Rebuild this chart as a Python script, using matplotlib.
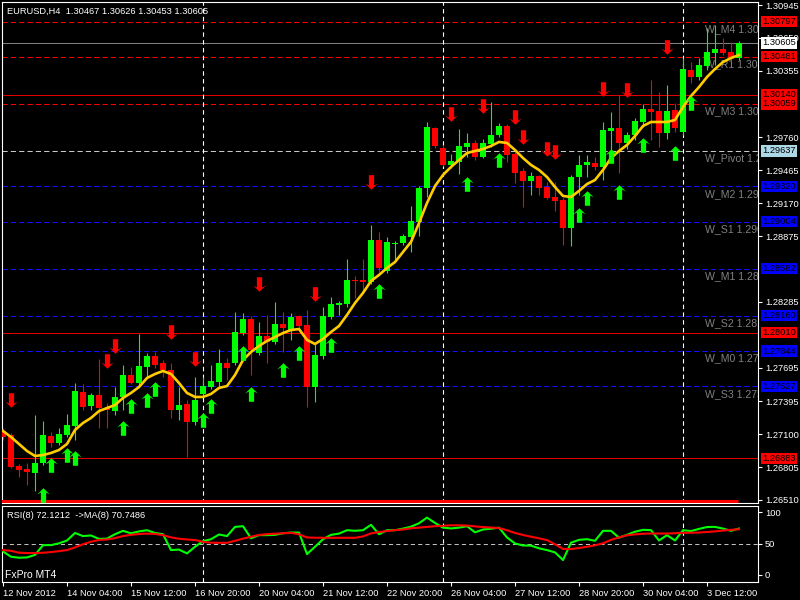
"""MT4-style EURUSD H4 chart with weekly pivot levels and RSI sub-window."""
import matplotlib
matplotlib.use("Agg")
import matplotlib.pyplot as plt
import matplotlib.transforms as mtransforms
from matplotlib.path import Path
import numpy as np

plt.rcParams["font.family"] = ["Liberation Sans", "DejaVu Sans"]

# ── Data ──────────────────────────────────────────────────────────────
opens = [
    1.27128, 1.27092, 1.26815, 1.26788, 1.26752, 1.26842, 1.27083, 1.27021, 1.27092, 1.27173,
    1.27478, 1.27352, 1.27451, 1.27334, 1.27307, 1.27433, 1.27630, 1.27558, 1.27702, 1.27800,
    1.27738, 1.27675, 1.27316, 1.27370, 1.27209, 1.27460, 1.27522, 1.27567, 1.27738, 1.27738,
    1.28006, 1.28132, 1.27827, 1.27979, 1.27926, 1.28087, 1.28033, 1.28159, 1.28078, 1.27522,
    1.27800, 1.28150, 1.28257, 1.28266, 1.28481, 1.28481, 1.28463, 1.28840, 1.28562, 1.28804,
    1.28813, 1.28866, 1.29001, 1.29306, 1.29843, 1.29664, 1.29512, 1.29538, 1.29673, 1.29709,
    1.29583, 1.29700, 1.29780, 1.29861, 1.29610, 1.29458, 1.29368, 1.29413, 1.29314, 1.29225,
    1.29198, 1.28947, 1.29404, 1.29512, 1.29530, 1.29494, 1.29816, 1.29843, 1.29709, 1.29780,
    1.29897, 1.30013, 1.29995, 1.29798, 1.30004, 1.29807, 1.30363, 1.30300, 1.30399, 1.30515,
    1.30551, 1.30524, 1.30467,
]
closes = [
    1.27074, 1.26806, 1.26779, 1.26761, 1.26842, 1.27092, 1.27021, 1.27101, 1.27182, 1.27487,
    1.27343, 1.27451, 1.27334, 1.27316, 1.27433, 1.27630, 1.27558, 1.27711, 1.27800, 1.27720,
    1.27675, 1.27316, 1.27361, 1.27209, 1.27406, 1.27531, 1.27576, 1.27738, 1.27693, 1.28015,
    1.28132, 1.27854, 1.27979, 1.27926, 1.28087, 1.28051, 1.28150, 1.28069, 1.27522, 1.27809,
    1.28159, 1.28266, 1.28275, 1.28481, 1.28472, 1.28463, 1.28840, 1.28589, 1.28822, 1.28813,
    1.28875, 1.29010, 1.29306, 1.29852, 1.29682, 1.29512, 1.29547, 1.29682, 1.29709, 1.29583,
    1.29709, 1.29780, 1.29861, 1.29601, 1.29440, 1.29368, 1.29413, 1.29306, 1.29216, 1.29189,
    1.28947, 1.29404, 1.29512, 1.29538, 1.29494, 1.29825, 1.29843, 1.29709, 1.29780, 1.29906,
    1.30013, 1.29986, 1.29798, 1.29995, 1.29843, 1.30372, 1.30300, 1.30408, 1.30524, 1.30551,
    1.30515, 1.30479, 1.30605,
]
highs = [
    1.27155, 1.27110, 1.26833, 1.26842, 1.27272, 1.27218, 1.27119, 1.27155, 1.27281, 1.27558,
    1.27549, 1.27469, 1.27773, 1.27379, 1.27522, 1.27720, 1.27702, 1.27997, 1.27827, 1.27836,
    1.27764, 1.27738, 1.27522, 1.27406, 1.27612, 1.27612, 1.27720, 1.27863, 1.27782, 1.28194,
    1.28186, 1.28159, 1.28105, 1.28168, 1.28284, 1.28194, 1.28186, 1.28168, 1.28212, 1.27917,
    1.28239, 1.28329, 1.28293, 1.28669, 1.28517, 1.28669, 1.28974, 1.28911, 1.28866, 1.28831,
    1.28893, 1.29144, 1.29323, 1.29897, 1.29852, 1.29691, 1.29610, 1.29834, 1.29798, 1.29736,
    1.29745, 1.30076, 1.29888, 1.29879, 1.29628, 1.29485, 1.29449, 1.29422, 1.29359, 1.29359,
    1.29216, 1.29422, 1.29601, 1.29601, 1.29583, 1.29897, 1.29986, 1.30139, 1.29807, 1.29933,
    1.30058, 1.30273, 1.30166, 1.30228, 1.30067, 1.30470, 1.30434, 1.30470, 1.30739, 1.30766,
    1.30650, 1.30614, 1.30626,
]
lows = [
    1.27048, 1.26797, 1.26716, 1.26644, 1.26591, 1.26824, 1.26985, 1.27003, 1.27074, 1.27048,
    1.27316, 1.27316, 1.27155, 1.27155, 1.27272, 1.27316, 1.27549, 1.27531, 1.27603, 1.27693,
    1.27612, 1.27245, 1.27227, 1.26895, 1.27182, 1.27442, 1.27505, 1.27522, 1.27585, 1.27720,
    1.27988, 1.27630, 1.27809, 1.27738, 1.27908, 1.27836, 1.27944, 1.28042, 1.27343, 1.27388,
    1.27773, 1.28132, 1.28168, 1.28239, 1.28320, 1.28374, 1.28445, 1.28553, 1.28544, 1.28642,
    1.28795, 1.28732, 1.28875, 1.29225, 1.29664, 1.29503, 1.29485, 1.29431, 1.29583, 1.29556,
    1.29574, 1.29673, 1.29762, 1.29538, 1.29350, 1.29135, 1.29243, 1.29243, 1.29207, 1.29099,
    1.28795, 1.28786, 1.29243, 1.29404, 1.29467, 1.29377, 1.29601, 1.29440, 1.29655, 1.29736,
    1.29852, 1.29736, 1.29673, 1.29745, 1.29807, 1.29780, 1.30246, 1.30273, 1.30363, 1.30408,
    1.30497, 1.30452, 1.30453,
]
ma_line = [
    1.27128, 1.27074, 1.27012, 1.26949, 1.26904, 1.26913, 1.26931, 1.26958, 1.27012, 1.27137,
    1.27200, 1.27245, 1.27307, 1.27334, 1.27361, 1.27424, 1.27469, 1.27522, 1.27603, 1.27639,
    1.27666, 1.27639, 1.27558, 1.27469, 1.27433, 1.27433, 1.27460, 1.27514, 1.27531, 1.27630,
    1.27764, 1.27836, 1.27890, 1.27935, 1.27970, 1.28006, 1.28033, 1.28042, 1.27944, 1.27908,
    1.27953, 1.28015, 1.28069, 1.28168, 1.28275, 1.28365, 1.28472, 1.28526, 1.28589, 1.28642,
    1.28732, 1.28822, 1.28992, 1.29171, 1.29323, 1.29422, 1.29494, 1.29556, 1.29619, 1.29637,
    1.29655, 1.29682, 1.29718, 1.29709, 1.29646, 1.29574, 1.29512, 1.29467, 1.29404, 1.29314,
    1.29234, 1.29225, 1.29279, 1.29341, 1.29377, 1.29467, 1.29574, 1.29637, 1.29691, 1.29771,
    1.29861, 1.29897, 1.29897, 1.29897, 1.29915, 1.30031, 1.30130, 1.30210, 1.30300, 1.30372,
    1.30434, 1.30470, 1.30497,
]
rsi = [
    37.6, 29, 27.5, 28, 32, 47.6, 47.6, 50.5, 55, 67,
    62, 63, 57.5, 58, 65, 70.4, 66.5, 69.5, 71.4, 67,
    65, 39.7, 40.5, 34.4, 45, 54, 57, 64.6, 62, 76.7,
    77.8, 58.5, 63.5, 63.5, 64, 66.5, 67.7, 67.7, 33.3, 45,
    57, 64, 66, 71.4, 70.5, 71.4, 80, 65, 71.4, 71.4,
    74, 77, 82.5, 91.5, 83, 75.5, 74.2, 75.5, 77.8, 68,
    72.5, 73.8, 75.5, 59.8, 50.3, 47, 46.8, 42.5, 39.7, 36,
    23.8, 51.5, 56, 57.1, 54.5, 70.4, 70.4, 59.5, 64, 69,
    72, 71.5, 55, 63.5, 55, 71.4, 70, 73.5, 76.5, 76.7,
    74, 70.4, 74,
]
rsi_ma = [
    39.7, 38.5, 35.5, 35, 35, 35.4, 36.5, 38, 39.7, 44,
    49, 53, 55.8, 56.6, 58.8, 62, 64, 65.3, 66, 65.5,
    63.5, 60, 57.8, 56.6, 55.8, 52.9, 51.5, 51.3, 51.3, 54.5,
    58, 61, 63.8, 65.1, 65.8, 66.5, 67.2, 64.8, 59.8, 59.4,
    59.3, 59.3, 59.3, 59.3, 59.3, 61.5, 66.3, 68.5, 70, 71.4,
    72.5, 74.5, 75.5, 76.7, 77.8, 78.4, 79.2, 79.2, 78.8, 77.5,
    76.4, 75.7, 74.8, 71.4, 67, 63.8, 61, 58.5, 55.6, 49,
    41.5, 41.3, 43, 45, 47.3, 50.5, 56, 60, 63.3, 64.8,
    65.7, 66.1, 66.1, 66.1, 66.6, 67.2, 67.4, 67.7, 68.5, 69.5,
    70.8, 72, 73,
]

# signal arrows (bar index, price)
up_bars = [5, 6, 8, 9, 15, 16, 18, 19, 25, 26, 30, 31, 35, 37, 41, 47, 58, 62, 72, 73, 76, 77, 80, 84, 86]
up_prices = [1.26555, 1.26824, 1.26913, 1.26886, 1.27155, 1.27352, 1.27406, 1.27505, 1.27227,
             1.27352, 1.27827, 1.27460, 1.27675, 1.27827, 1.27899, 1.28383, 1.29341, 1.29556,
             1.29064, 1.29216, 1.29592, 1.29270, 1.29691, 1.29619, 1.30067]
down_bars = [1, 13, 14, 21, 24, 32, 39, 46, 56, 60, 64, 65, 68, 69, 75, 78, 83]
down_prices = [1.27406, 1.27755, 1.27890, 1.28015, 1.27773, 1.28445, 1.28356, 1.29359, 1.29969,
               1.30040, 1.29942, 1.29762, 1.29655, 1.29628, 1.30193, 1.30184, 1.30569]

# horizontal levels
level_prices = [1.30797, 1.30605, 1.30481, 1.30140, 1.30059, 1.29637, 1.29320,
                1.29004, 1.28582, 1.28160, 1.28010, 1.27844, 1.27527, 1.26883]
level_names = ["W_M4", "", "W_R1", "", "W_M3", "W_Pivot", "W_M2",
               "W_S1", "W_M1", "W_S2", "", "W_M0", "W_S3", ""]
level_colors = ["#ff0000", "#808080", "#ff0000", "#e00000", "#ff0000", "#c8c8c8", "#1010ff",
                "#1010ff", "#1010ff", "#1010ff", "#e00000", "#1010ff", "#1010ff", "#e00000"]
level_dashed = [True, False, True, False, True, True, True,
                True, True, True, False, True, True, False]
box_colors = ["#ff0000", "#ffffff", "#ff0000", "#ff0000", "#ff0000", "#add8e6", "#0000ff",
              "#0000ff", "#0000ff", "#0000ff", "#ff0000", "#0000ff", "#0000ff", "#ff0000"]

# scale labels left visible by the price boxes
tick_vals = [1.30945, 1.30650, 1.30355, 1.29760, 1.29465, 1.29170, 1.28875,
             1.28285, 1.27695, 1.27395, 1.27100, 1.26805, 1.26510]

date_bars = [0, 8, 16, 24, 32, 40, 48, 56, 64, 72, 80, 88]
date_labels = ["12 Nov 2012", "14 Nov 04:00", "15 Nov 12:00", "16 Nov 20:00", "20 Nov 04:00",
               "21 Nov 12:00", "22 Nov 20:00", "26 Nov 04:00", "27 Nov 12:00", "28 Nov 20:00",
               "30 Nov 04:00", "3 Dec 12:00"]
week_sep_bars = [25, 55, 85]

strip_level = 1.26503
strip_green_bars = [5]

GREEN = "#00ff00"
RED = "#ff0000"
WHITE = "#ffffff"
FS = 6.7

# ── Figure ────────────────────────────────────────────────────────────
fig = plt.figure(figsize=(8, 6), dpi=100, facecolor="black")
ax = fig.add_axes([2 / 800, 1 - 503 / 600, 756 / 800, 501 / 600], facecolor="black")
ax2 = fig.add_axes([2 / 800, 1 - 582 / 600, 756 / 800, 76 / 600], facecolor="black")

x = np.arange(len(opens))
o = np.array(opens)
c = np.array(closes)
bull = c >= o
cols = np.where(bull, GREEN, RED)

# levels and their names
dash = (0, (5, 3))
for price, name, lc, dashed in zip(level_prices, level_names, level_colors, level_dashed):
    ax.axhline(price, color=lc, lw=0.75, ls=dash if dashed else "-", zorder=1)
    if name:
        ax.text(87.75, price, f"{name} {price:.5f}", color="#808080", fontsize=7.6,
                va="top", ha="left", zorder=1.5, clip_on=True,
                transform=ax.transData + mtransforms.ScaledTranslation(0, -0.025, fig.dpi_scale_trans))

# week separators
for ab in (ax, ax2):
    for b in week_sep_bars:
        ab.axvline(b, color=WHITE, lw=0.8, ls=(0, (4, 3)), zorder=1)

# candles
ax.vlines(x, lows, highs, colors=cols, lw=0.8, zorder=3)
body_lo = np.minimum(o, c)
body_h = np.maximum(np.abs(c - o), 0.00009)
ax.bar(x, body_h, width=0.64, bottom=body_lo, color=cols, lw=0, zorder=3)

# moving average
ax.plot(x, ma_line, color="#ffcc00", lw=1.9, zorder=4)

# arrows
up_path = Path([(0, 1), (0.85, 0.15), (0.36, 0.4), (0.36, -1), (-0.36, -1),
                (-0.36, 0.4), (-0.85, 0.15), (0, 1)], closed=True)
down_path = Path([(vx, -vy) for vx, vy in up_path.vertices], closed=True)
ax.plot(up_bars, up_prices, ls="none", marker=up_path, ms=10.5, color=GREEN, mew=0, zorder=5)
ax.plot(down_bars, down_prices, ls="none", marker=down_path, ms=10.5, color=RED, mew=0, zorder=5)

# bottom strip indicator
ax.hlines(strip_level, x[0] - 0.5, x[-1] - 0.1, color=RED, lw=2.2, zorder=4)
for b in strip_green_bars:
    ax.hlines(strip_level, b - 0.3, b, color=GREEN, lw=2.2, zorder=4)

ax.set_xlim(-0.125, 94.375)
ax.set_ylim(1.26483, 1.30972)
ax.set_xticks([])
ax.yaxis.tick_right()
ax.set_yticks(tick_vals)
ax.set_yticklabels([f"{v:.5f}" for v in tick_vals])
ax.tick_params(axis="y", colors=WHITE, length=3, width=0.8, labelsize=FS, pad=2)

# price boxes on the right scale
box_tr = mtransforms.blended_transform_factory(ax.transAxes, ax.transData) + \
    mtransforms.ScaledTranslation(0.04, 0, fig.dpi_scale_trans)
for price, bc in zip(level_prices, box_colors):
    ax.text(1.0, price, f"{price:.5f}", transform=box_tr, ha="left", va="center",
            fontsize=FS, color="black", clip_on=False, zorder=6,
            bbox=dict(boxstyle="square,pad=0.12", fc=bc, ec="none"))

# ── RSI window ────────────────────────────────────────────────────────
ax2.axhline(50, color="#c0c0c0", lw=0.75, ls=(0, (4, 3)), zorder=1)
ax2.plot(x, rsi, color=GREEN, lw=1.5, zorder=3)
ax2.plot(x, rsi_ma, color=RED, lw=1.5, zorder=4)
ax2.set_xlim(-0.125, 94.375)
ax2.set_ylim(-11.2, 110)
ax2.yaxis.tick_right()
ax2.set_yticks([0, 50, 100])
ax2.set_yticklabels(["0", "50", "100"])
ax2.set_xticks(date_bars)
ax2.set_xticklabels(date_labels, ha="left")
ax2.tick_params(colors=WHITE, length=3, width=0.8, labelsize=FS, pad=2)

for a in (ax, ax2):
    for sp in a.spines.values():
        sp.set_color(WHITE)
        sp.set_linewidth(0.8)

fig.text(7 / 800, 1 - 11 / 600, "EURUSD,H4  1.30467 1.30626 1.30453 1.30605",
         color=WHITE, fontsize=FS, va="center")
fig.text(7 / 800, 1 - 515 / 600, "RSI(8) 72.1212  ->MA(8) 70.7486",
         color=WHITE, fontsize=FS, va="center")
fig.text(5 / 800, 1 - 575 / 600, "FxPro MT4", color=WHITE, fontsize=7.5, va="center")

fig.savefig("out.png", dpi=100, facecolor="black")
plt.close(fig)
